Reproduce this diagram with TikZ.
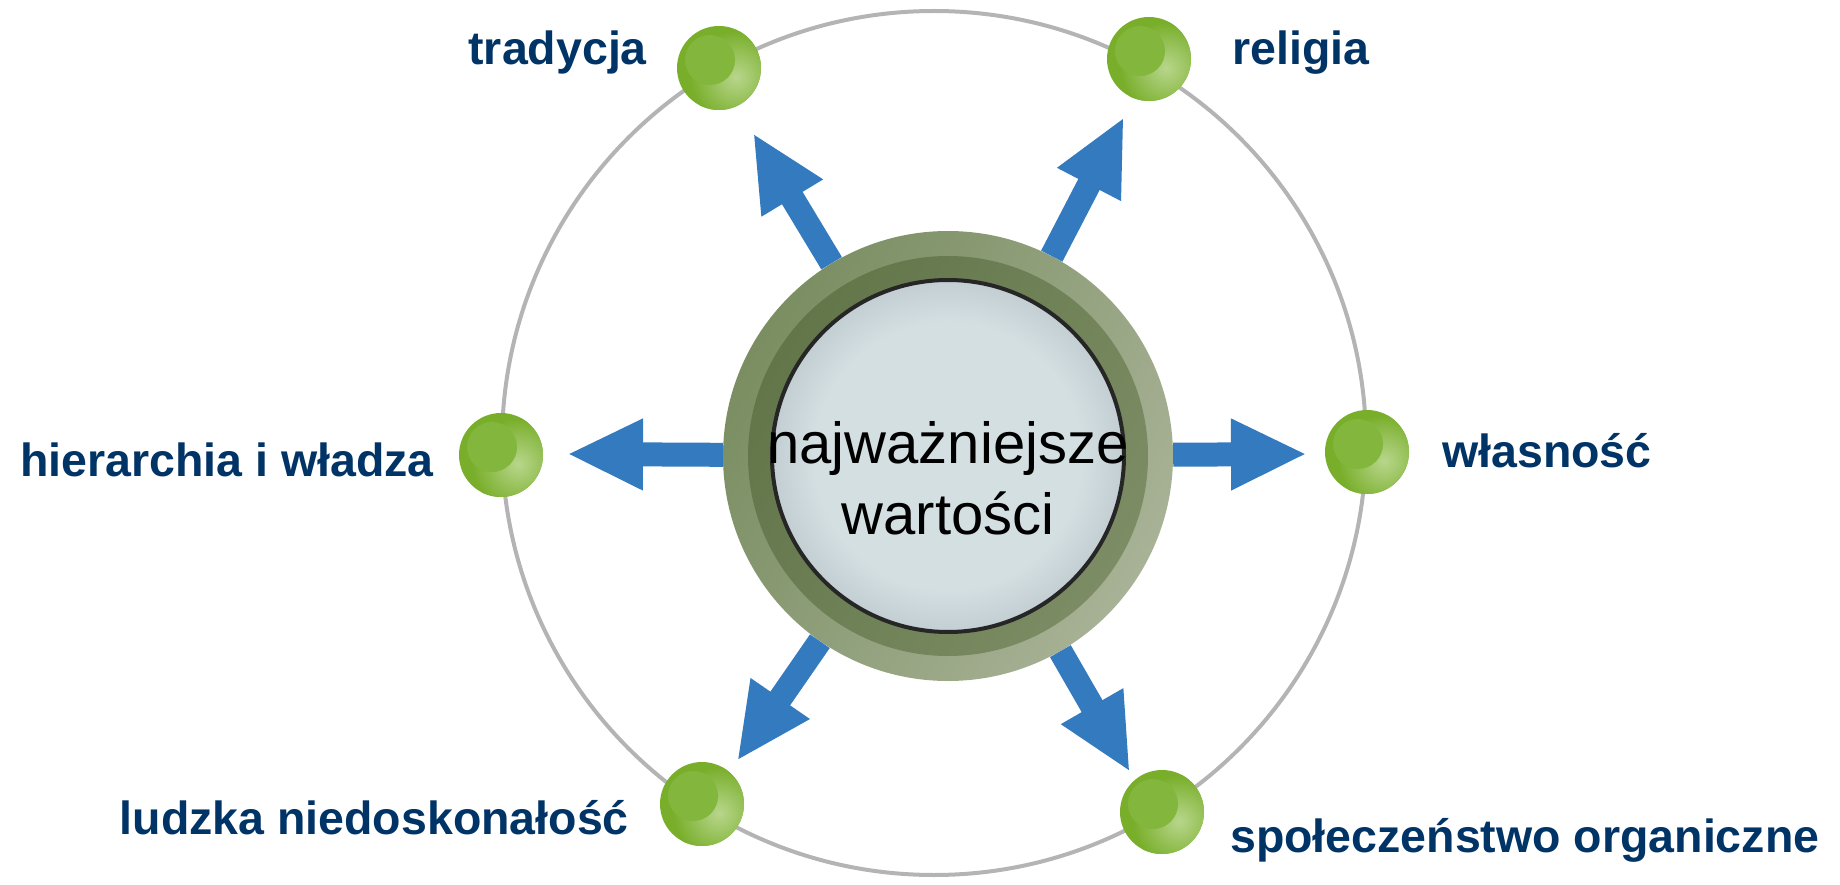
\documentclass[tikz,border=0pt]{standalone}
\usepackage{fontspec}
\setmainfont{Liberation Sans}
\usetikzlibrary{arrows.meta,calc}
\definecolor{lbl}{RGB}{0,51,102}
\definecolor{arr}{RGB}{52,122,190}
\definecolor{orbitc}{RGB}{180,180,180}
\definecolor{ballg}{RGB}{120,174,42}
\definecolor{balll}{RGB}{184,214,140}
\definecolor{balli}{RGB}{130,182,60}
\definecolor{ringa}{RGB}{122,142,98}
\definecolor{ringb}{RGB}{168,178,150}
\definecolor{banda}{RGB}{98,118,74}
\definecolor{bandb}{RGB}{124,140,100}
\definecolor{glassa}{RGB}{212,223,226}
\definecolor{glassb}{RGB}{194,206,210}
\pgfdeclareradialshading{glassshade}{\pgfpointorigin}{color(0bp)=(glassa); color(19bp)=(glassa); color(25bp)=(glassb); color(50bp)=(glassb)}
\newcommand\greenball[3]{%
  \node[circle, minimum size=84pt, inner sep=0pt, fill=ballg] (#1) at (#2,#3) {};
  \begin{scope}
    \clip (#1.center) circle (42pt);
    \shade[inner color=balll, outer color=ballg] ($(#1.center)+(17,9)$) circle (46pt);
    \fill[balli] ($(#1.center)+(-9,-8)$) circle (25pt);
  \end{scope}}
\begin{document}
\begin{tikzpicture}[x=1pt,y=-1pt,
  lab/.style={font=\fontsize{46.5}{56}\selectfont\bfseries, text=lbl, inner sep=0pt},
  bigarrow/.style={draw=arr, line width=24pt, -{Triangle[length=76pt 0,width=66pt 0]}},
  centertext/.style={font=\fontsize{58}{71}\selectfont, align=center, inner sep=0pt, text=black}]
\useasboundingbox (0,0) rectangle (1840,885);
% orbit
\node[circle, draw=orbitc, line width=4pt, minimum size=864pt, inner sep=0pt] (orbit) at (934,443) {};
% centre disc
\coordinate (c) at (948,456);
\shade[left color=ringa, right color=ringb, shading angle=60] (c) circle (225pt);
\shade[left color=banda, right color=bandb, shading angle=60] (c) circle (200pt);
\shade[shading=glassshade] (c) circle (176pt);
\draw[black!85, line width=4pt] (c) circle (176pt);
\node[circle, minimum size=450pt, inner sep=0pt] (ctr) at (c) {};
\node[centertext] (ctrtext) at (948,478) {najważniejsze\\wartości};
% arrow tips
\coordinate (t1) at (753,133);
\coordinate (t2) at (1124,117);
\coordinate (t3) at (567,454);
\coordinate (t4) at (1307,454);
\coordinate (t5) at (737,761);
\coordinate (t6) at (1130,772);
\foreach \t in {t1,t2,t3,t4,t5,t6} \draw[bigarrow] (ctr) -- (\t);
% balls
\greenball{b1}{719}{68}
\greenball{b2}{1149}{59}
\greenball{b3}{501}{455}
\greenball{b4}{1367}{452}
\greenball{b5}{702}{804}
\greenball{b6}{1162}{812}
% labels
\node[lab, anchor=base east] (l1) at (647,65) {tradycja};
\node[lab, anchor=base west] (l2) at (1232,65) {religia};
\node[lab, anchor=base east] (l3) at (434,476) {hierarchia i władza};
\node[lab, anchor=base west] (l4) at (1442,467) {własność};
\node[lab, anchor=base east] (l5) at (629,834) {ludzka niedoskonałość};
\node[lab, anchor=base west] (l6) at (1230,852) {społeczeństwo organiczne};
\end{tikzpicture}
\end{document}
